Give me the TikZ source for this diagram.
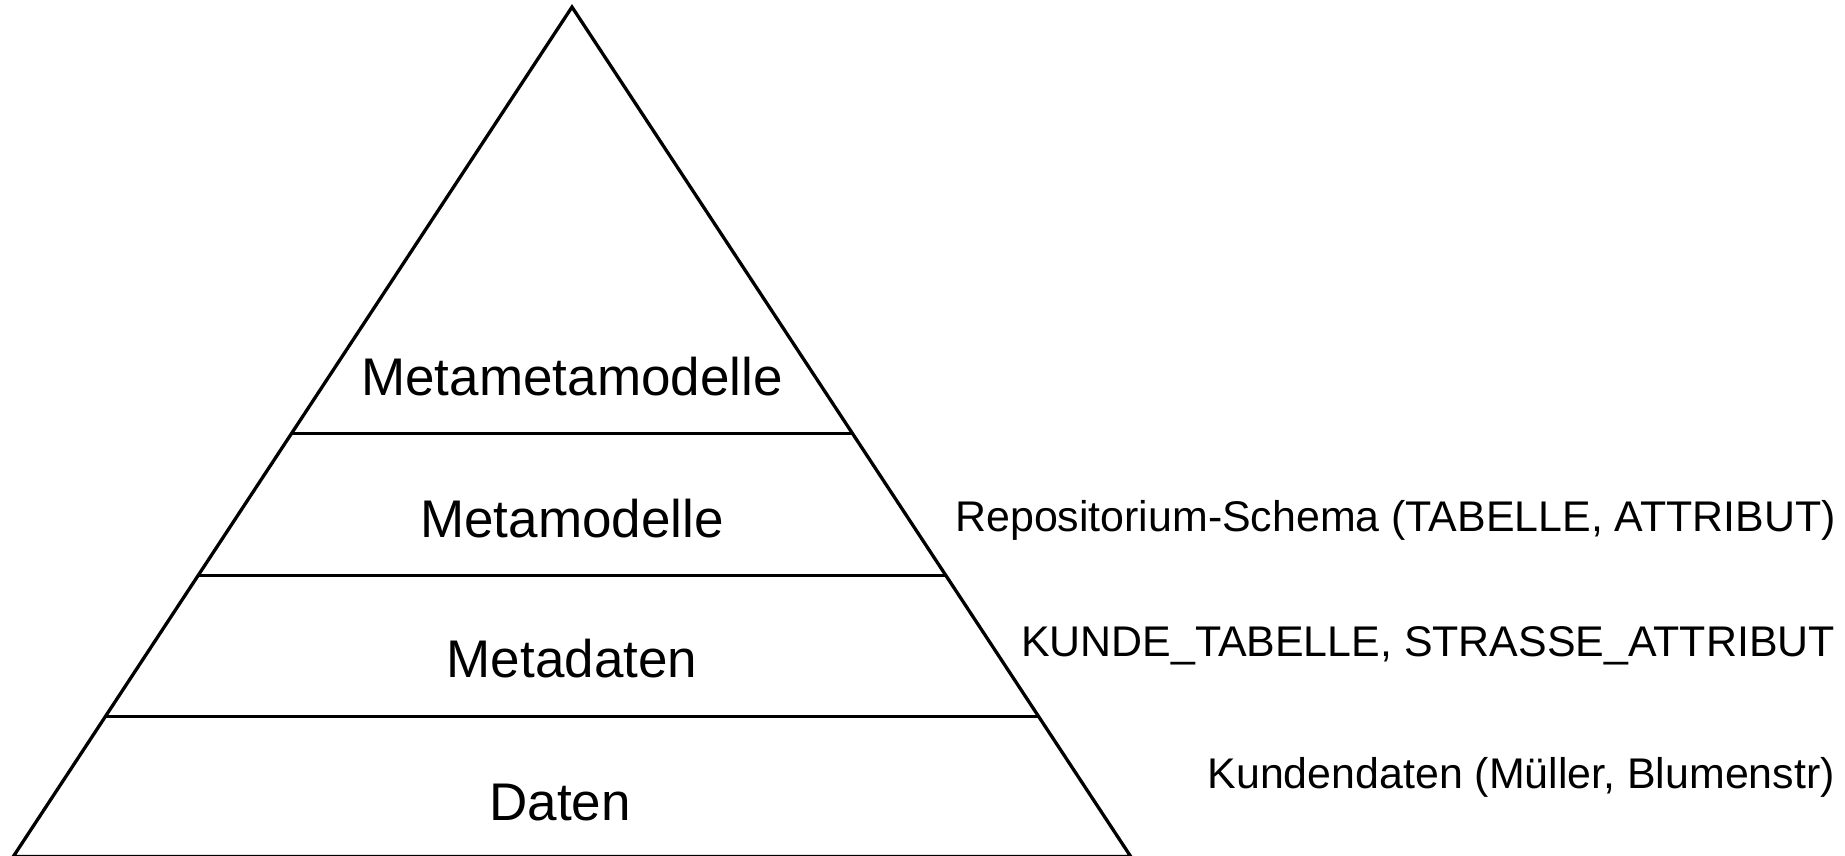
\documentclass[tikz,border=0pt]{standalone}
\usepackage{fontspec}
\setmainfont{Liberation Sans}
\usetikzlibrary{calc}
\begin{document}
\begin{tikzpicture}[x=1pt,y=-1pt,
  edge/.style={line width=3.3pt,line join=miter},
  layer/.style={anchor=base,inner sep=0pt,font=\fontsize{53}{60}\selectfont},
  note/.style={anchor=base east,inner sep=0pt,font=\fontsize{42.9}{50}\selectfont}]
\useasboundingbox (0,0) rectangle (1845,855);
\coordinate (apex) at (572,7);
\coordinate (bl) at (13.3,856.5);
\coordinate (br) at (1130.7,856.5);
\draw[edge] (apex) -- (bl) -- (br) -- cycle;
\coordinate (l1) at ($(apex)!0.5024!(bl)$);
\coordinate (r1) at ($(apex)!0.5024!(br)$);
\coordinate (l2) at ($(apex)!0.6689!(bl)$);
\coordinate (r2) at ($(apex)!0.6689!(br)$);
\coordinate (l3) at ($(apex)!0.8351!(bl)$);
\coordinate (r3) at ($(apex)!0.8351!(br)$);
\draw[edge] (l1) -- (r1);
\draw[edge] (l2) -- (r2);
\draw[edge] (l3) -- (r3);
\node[layer] (mmm) at (572,395) {Metametamodelle};
\node[layer] (mm) at (572,537) {Metamodelle};
\node[layer] (md) at (572,677) {Metadaten};
\node[layer] (d) at (560,820) {Daten};
\node[note] (n1) at (1836,531) {Repositorium-Schema (TABELLE, ATTRIBUT)};
\node[note] (n2) at (1835,656) {KUNDE\_TABELLE, STRASSE\_ATTRIBUT};
\node[note] (n3) at (1835,788) {Kundendaten (Müller, Blumenstr)};
\end{tikzpicture}
\end{document}
